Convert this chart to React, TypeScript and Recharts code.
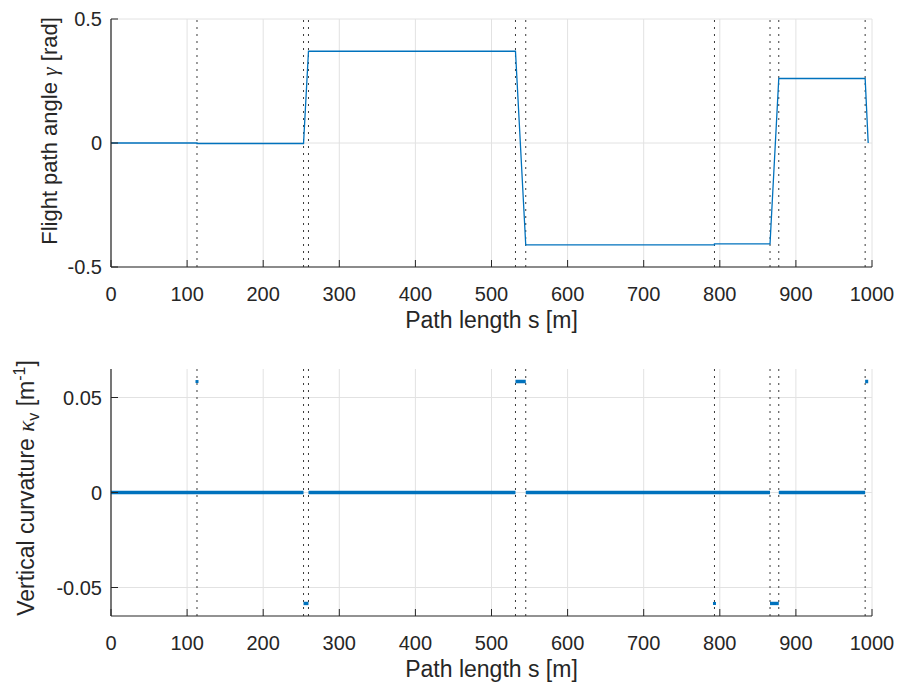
import React from 'react';
import {
  ComposedChart,
  LineChart,
  Line,
  Scatter,
  XAxis,
  YAxis,
  CartesianGrid,
  ReferenceLine,
} from 'recharts';

// Path length ticks [m]
const sTicks = [0, 100, 200, 300, 400, 500, 600, 700, 800, 900, 1000];
const gammaTicks = [-0.5, 0, 0.5];
const kappaTicks = [-0.05, 0, 0.05];

// Segment boundaries along the path [m]
const boundaries = [113, 253, 259.5, 531.5, 545, 793, 866, 877.5, 991];

// Flight path angle profile: path length [m] and angle [rad]
const pathS = [0, 113, 113, 253, 259.5, 531.5, 545, 793, 793, 866, 877.5, 991, 995];
const gammaRad = [0, 0, -0.002, -0.002, 0.37, 0.37, -0.411, -0.411, -0.407, -0.407, 0.26, 0.26, 0];

// Vertical curvature: piecewise constant stretches [m] and value [1/m]
const kappaFrom = [0, 253, 259.5, 531.5, 545, 866, 877.5, 991];
const kappaTo = [253, 259.5, 531.5, 545, 866, 877.5, 991, 995];
const kappaValue = [0, -0.0584, 0, 0.0584, 0, -0.0584, 0, 0.0584];

// Isolated curvature samples
const spikeS = [113, 793];
const spikeK = [0.0584, -0.0584];

const gammaData = pathS.map((s, i) => ({ s, gamma: gammaRad[i] }));
const kappaSegments = kappaFrom.map((from, i) => [
  { s: from, k: kappaValue[i] },
  { s: kappaTo[i], k: kappaValue[i] },
]);
const spikeData = spikeS.map((s, i) => ({ s, k: spikeK[i] }));

const W = 899;
const FONT = '"Liberation Sans", Arial, Helvetica, sans-serif';
const AXIS = '#262626';
const GRID = '#e2e2e2';
const BLUE = '#0072BD';
const TICK_FS = 20;
const TITLE_FS = 23;

const XTick = (props: any) => {
  const { x, y, payload } = props;
  return (
    <g>
      <line x1={x} x2={x} y1={y} y2={y - 7} stroke={AXIS} strokeWidth={1} />
      <text x={x} y={y + 34} textAnchor="middle" fill={AXIS} fontSize={TICK_FS} fontFamily={FONT}>
        {payload.value}
      </text>
    </g>
  );
};

const YTick = (props: any) => {
  const { x, y, payload } = props;
  return (
    <g>
      <line x1={x} x2={x + 7} y1={y} y2={y} stroke={AXIS} strokeWidth={1} />
      <text x={x - 9} y={y} dy="0.35em" textAnchor="end" fill={AXIS} fontSize={TICK_FS} fontFamily={FONT}>
        {payload.value}
      </text>
    </g>
  );
};

const xTitle = (props: any) => {
  const vb = props.viewBox || {};
  const cx = vb.x + vb.width / 2;
  return (
    <text x={cx} y={vb.y + 61} textAnchor="middle" fill={AXIS} fontSize={TITLE_FS} fontFamily={FONT}>
      Path length s [m]
    </text>
  );
};

const gammaTitle = () => {
  const cx = 57;
  const cy = 131;
  return (
    <text
      x={cx}
      y={cy}
      transform={`rotate(-90 ${cx} ${cy})`}
      textAnchor="middle"
      fill={AXIS}
      fontSize={22}
      fontFamily={FONT}
    >
      Flight path angle{' '}
      <tspan fontStyle="italic" fontFamily='"Liberation Serif", serif'>γ</tspan> [rad]
    </text>
  );
};

const kappaTitle = () => {
  const cx = 34;
  const cy = 143;
  return (
    <text
      x={cx}
      y={cy}
      transform={`rotate(-90 ${cx} ${cy})`}
      textAnchor="middle"
      fill={AXIS}
      fontSize={TITLE_FS}
      fontFamily={FONT}
    >
      Vertical curvature{' '}
      <tspan fontStyle="italic" fontFamily='"Liberation Serif", serif'>κ</tspan>
      <tspan dy={5} fontSize={16}>v</tspan>
      <tspan dy={-5}> [m</tspan>
      <tspan dy={-9} fontSize={16}>-1</tspan>
      <tspan dy={9}>]</tspan>
    </text>
  );
};

const SpikeDot = (props: any) => {
  const { cx, cy } = props;
  return <rect x={cx - 1.5} y={cy - 1.5} width={3} height={3} fill={BLUE} />;
};

export default function App() {
  return (
    <div
      style={{
        position: 'absolute',
        left: 0,
        top: 0,
        width: W,
        height: 689,
        background: '#ffffff',
      }}
    >
      <LineChart width={W} height={345} data={gammaData} margin={{ top: 19, right: 27, bottom: 0, left: 0 }}>
        <CartesianGrid stroke={GRID} verticalValues={sTicks} horizontalValues={gammaTicks} />
        <XAxis
          dataKey="s"
          type="number"
          domain={[0, 1000]}
          ticks={sTicks}
          interval={0}
          height={78}
          tickSize={0}
          tickMargin={0}
          tickLine={false}
          tick={<XTick />}
          axisLine={{ stroke: AXIS, strokeWidth: 1.2 }}
          label={xTitle}
        />
        <YAxis
          type="number"
          domain={[-0.5, 0.5]}
          ticks={gammaTicks}
          interval={0}
          width={111}
          tickSize={0}
          tickMargin={0}
          tickLine={false}
          tick={<YTick />}
          axisLine={{ stroke: AXIS, strokeWidth: 1.2 }}
          allowDataOverflow
          label={gammaTitle}
        />
        {boundaries.map((b) => (
          <ReferenceLine key={b} x={b} stroke="#3a3a3a" strokeWidth={1} strokeDasharray="2 5" />
        ))}
        <Line
          type="linear"
          dataKey="gamma"
          stroke={BLUE}
          strokeWidth={1.3}
          dot={false}
          isAnimationActive={false}
        />
      </LineChart>
      <ComposedChart width={W} height={344} margin={{ top: 24, right: 27, bottom: 0, left: 0 }}>
        <CartesianGrid stroke={GRID} verticalValues={sTicks} horizontalValues={kappaTicks} />
        <XAxis
          dataKey="s"
          type="number"
          domain={[0, 1000]}
          ticks={sTicks}
          interval={0}
          height={73}
          tickSize={0}
          tickMargin={0}
          tickLine={false}
          tick={<XTick />}
          axisLine={{ stroke: AXIS, strokeWidth: 1.2 }}
          label={xTitle}
        />
        <YAxis
          type="number"
          domain={[-0.065, 0.065]}
          ticks={kappaTicks}
          interval={0}
          width={111}
          tickSize={0}
          tickMargin={0}
          tickLine={false}
          tick={<YTick />}
          axisLine={{ stroke: AXIS, strokeWidth: 1.2 }}
          allowDataOverflow
          label={kappaTitle}
        />
        {boundaries.map((b) => (
          <ReferenceLine key={b} x={b} stroke="#3a3a3a" strokeWidth={1} strokeDasharray="2 5" />
        ))}
        {kappaSegments.map((seg, i) => (
          <Line
            key={i}
            data={seg}
            type="linear"
            dataKey="k"
            stroke={BLUE}
            strokeWidth={3.4}
            dot={false}
            isAnimationActive={false}
          />
        ))}
        <Scatter data={spikeData} dataKey="k" fill={BLUE} shape={<SpikeDot />} isAnimationActive={false} />
      </ComposedChart>
    </div>
  );
}
